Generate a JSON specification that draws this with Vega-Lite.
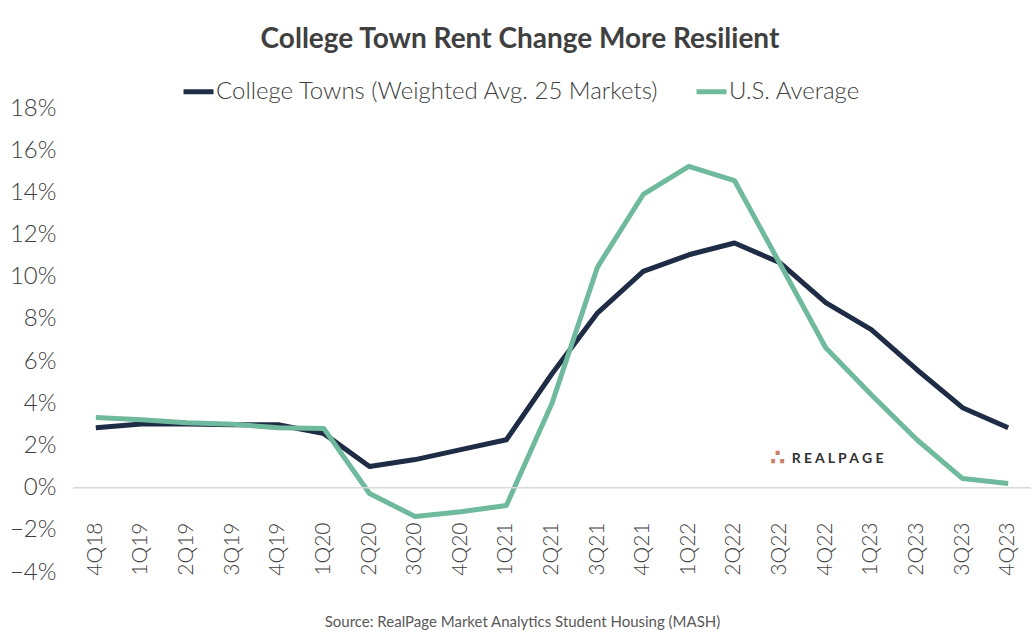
{
  "$schema": "https://vega.github.io/schema/vega-lite/v6.json",
  "width": 958,
  "height": 464,
  "autosize": "none",
  "padding": {"left": 73, "top": 108, "right": 5, "bottom": 68},
  "background": "white",
  "config": {"view": {"stroke": null}, "font": "Lato"},
  "title": {
    "text": "College Town Rent Change More Resilient",
    "font": "Lato", "fontSize": 28, "fontWeight": "bold", "color": "#404040",
    "anchor": "middle", "frame": "group", "dx": -32, "offset": 20
  },
  "datasets": {
    "rent": [
      {"q": "4Q18", "s": "College Towns (Weighted Avg. 25 Markets)", "v": 0.0284},
      {"q": "1Q19", "s": "College Towns (Weighted Avg. 25 Markets)", "v": 0.0302},
      {"q": "2Q19", "s": "College Towns (Weighted Avg. 25 Markets)", "v": 0.0302},
      {"q": "3Q19", "s": "College Towns (Weighted Avg. 25 Markets)", "v": 0.0298},
      {"q": "4Q19", "s": "College Towns (Weighted Avg. 25 Markets)", "v": 0.0298},
      {"q": "1Q20", "s": "College Towns (Weighted Avg. 25 Markets)", "v": 0.0256},
      {"q": "2Q20", "s": "College Towns (Weighted Avg. 25 Markets)", "v": 0.0100},
      {"q": "3Q20", "s": "College Towns (Weighted Avg. 25 Markets)", "v": 0.0133},
      {"q": "4Q20", "s": "College Towns (Weighted Avg. 25 Markets)", "v": 0.0180},
      {"q": "1Q21", "s": "College Towns (Weighted Avg. 25 Markets)", "v": 0.0227},
      {"q": "2Q21", "s": "College Towns (Weighted Avg. 25 Markets)", "v": 0.0540},
      {"q": "3Q21", "s": "College Towns (Weighted Avg. 25 Markets)", "v": 0.0829},
      {"q": "4Q21", "s": "College Towns (Weighted Avg. 25 Markets)", "v": 0.1025},
      {"q": "1Q22", "s": "College Towns (Weighted Avg. 25 Markets)", "v": 0.1104},
      {"q": "2Q22", "s": "College Towns (Weighted Avg. 25 Markets)", "v": 0.1160},
      {"q": "3Q22", "s": "College Towns (Weighted Avg. 25 Markets)", "v": 0.1066},
      {"q": "4Q22", "s": "College Towns (Weighted Avg. 25 Markets)", "v": 0.0877},
      {"q": "1Q23", "s": "College Towns (Weighted Avg. 25 Markets)", "v": 0.0749},
      {"q": "2Q23", "s": "College Towns (Weighted Avg. 25 Markets)", "v": 0.0559},
      {"q": "3Q23", "s": "College Towns (Weighted Avg. 25 Markets)", "v": 0.0379},
      {"q": "4Q23", "s": "College Towns (Weighted Avg. 25 Markets)", "v": 0.0284},
      {"q": "4Q18", "s": "U.S. Average", "v": 0.0332},
      {"q": "1Q19", "s": "U.S. Average", "v": 0.0322},
      {"q": "2Q19", "s": "U.S. Average", "v": 0.0308},
      {"q": "3Q19", "s": "U.S. Average", "v": 0.0300},
      {"q": "4Q19", "s": "U.S. Average", "v": 0.0284},
      {"q": "1Q20", "s": "U.S. Average", "v": 0.0280},
      {"q": "2Q20", "s": "U.S. Average", "v": -0.0028},
      {"q": "3Q20", "s": "U.S. Average", "v": -0.0137},
      {"q": "4Q20", "s": "U.S. Average", "v": -0.0114},
      {"q": "1Q21", "s": "U.S. Average", "v": -0.0085},
      {"q": "2Q21", "s": "U.S. Average", "v": 0.0400},
      {"q": "3Q21", "s": "U.S. Average", "v": 0.1047},
      {"q": "4Q21", "s": "U.S. Average", "v": 0.1390},
      {"q": "1Q22", "s": "U.S. Average", "v": 0.1523},
      {"q": "2Q22", "s": "U.S. Average", "v": 0.1456},
      {"q": "3Q22", "s": "U.S. Average", "v": 0.1060},
      {"q": "4Q22", "s": "U.S. Average", "v": 0.0663},
      {"q": "1Q23", "s": "U.S. Average", "v": 0.0440},
      {"q": "2Q23", "s": "U.S. Average", "v": 0.0227},
      {"q": "3Q23", "s": "U.S. Average", "v": 0.0043},
      {"q": "4Q23", "s": "U.S. Average", "v": 0.0020}
    ],
    "zero": [{"z": 0}],
    "logo": [{"q": "4Q22", "v": 0.0137, "dots": "∴", "name": "R E A L P A G E"}]
  },
  "layer": [
    {
      "data": {"name": "rent"},
      "mark": {"type": "line", "strokeWidth": 5, "strokeJoin": "round", "strokeCap": "butt"},
      "encoding": {
        "x": {
          "field": "q", "type": "nominal", "sort": null,
          "scale": {"type": "band", "paddingInner": 0, "paddingOuter": 0},
          "axis": {
            "labelAngle": -90, "labelFont": "Lato", "labelFontSize": 21, "labelFontWeight": 300,
            "labelColor": "#404040", "ticks": false, "domain": false, "offset": -52, "labelPadding": 2,
            "title": "Source: RealPage Market Analytics Student Housing (MASH)",
            "titleFont": "Lato", "titleFontSize": 15, "titleFontWeight": "normal", "titleColor": "#595959",
            "titlePadding": 39, "titleX": 449, "titleAnchor": null
          }
        },
        "y": {
          "field": "v", "type": "quantitative",
          "scale": {"domain": [-0.04, 0.18], "nice": false, "zero": false},
          "axis": {
            "values": [-0.04, -0.02, 0, 0.02, 0.04, 0.06, 0.08, 0.1, 0.12, 0.14, 0.16, 0.18],
            "format": ".0%", "labelFont": "Lato", "labelFontSize": 24, "labelFontWeight": 300,
            "labelColor": "#404040", "ticks": false, "domain": false, "grid": false,
            "labelPadding": 17, "title": null
          }
        },
        "color": {
          "field": "s", "type": "nominal",
          "scale": {"domain": ["College Towns (Weighted Avg. 25 Markets)", "U.S. Average"], "range": ["#1f2c45", "#6fba9c"]},
          "legend": {
            "title": null, "orient": "none", "direction": "horizontal", "legendX": 108, "legendY": -34,
            "symbolType": "stroke", "symbolSize": 900, "symbolStrokeWidth": 5,
            "labelFont": "Lato", "labelFontSize": 24, "labelFontWeight": 300, "labelColor": "#404040",
            "labelLimit": 600, "labelOffset": 0, "columnPadding": 26
          }
        }
      }
    },
    {
      "data": {"name": "zero"},
      "mark": {"type": "rule", "color": "#d9d9d9", "strokeWidth": 1.5},
      "encoding": {"y": {"field": "z", "type": "quantitative"}}
    },
    {
      "data": {"name": "logo"},
      "mark": {"type": "text", "font": "Lato", "fontSize": 14, "fontWeight": "bold", "color": "#303030", "align": "left", "baseline": "middle", "dx": -34},
      "encoding": {
        "x": {"field": "q", "type": "nominal", "sort": null},
        "y": {"field": "v", "type": "quantitative"},
        "text": {"field": "name"}
      }
    },
    {
      "data": {"name": "logo"},
      "mark": {"type": "text", "font": "DejaVu Sans", "fontSize": 22, "fontWeight": "bold", "color": "#c8826a", "align": "center", "baseline": "middle", "dx": -48, "dy": -1},
      "encoding": {
        "x": {"field": "q", "type": "nominal", "sort": null},
        "y": {"field": "v", "type": "quantitative"},
        "text": {"field": "dots"}
      }
    }
  ]
}
